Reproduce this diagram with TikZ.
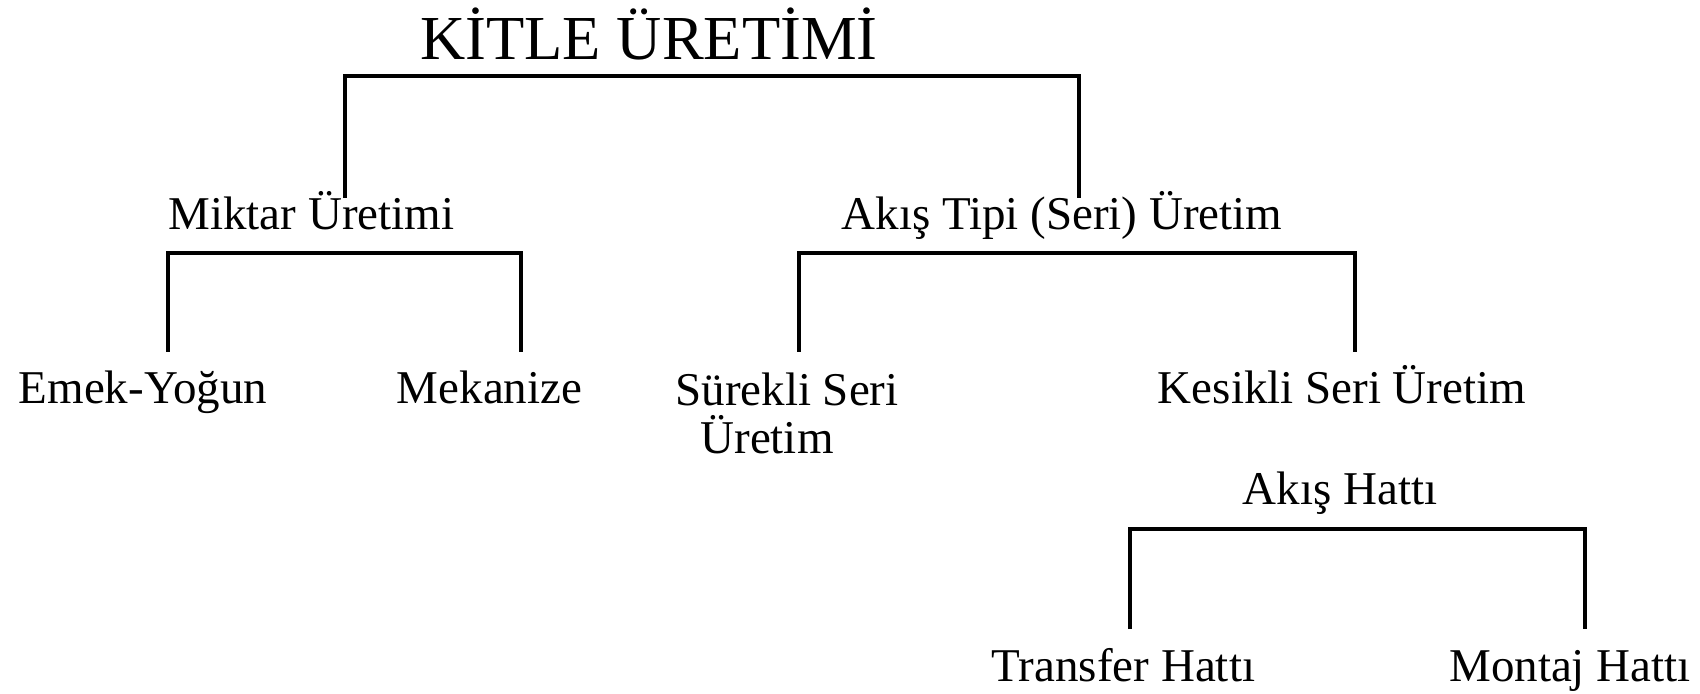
\documentclass[tikz,border=0pt]{standalone}
\usepackage{fontspec}
\setmainfont{Liberation Serif}
\begin{document}
\begin{tikzpicture}[x=0.5pt,y=-0.5pt,
  lbl/.style={inner sep=0pt,anchor=base,font=\fontsize{23.5pt}{24.5pt}\selectfont},
  ttl/.style={inner sep=0pt,anchor=base,font=\fontsize{31.3pt}{33pt}\selectfont},
  conn/.style={draw=black,line width=1.8pt,line join=miter}]
\useasboundingbox[fill=white] (0,0) rectangle (1700,694);
% nodes
\node[ttl] (title) at (649,60) {KİTLE ÜRETİMİ};
\node[lbl] (miktar) at (311.5,230) {Miktar Üretimi};
\node[lbl] (akis) at (1062,230) {Akış Tipi (Seri) Üretim};
\node[lbl] (emek) at (143,404) {Emek-Yoğun};
\node[lbl] (mekanize) at (489.5,404) {Mekanize};
\node[lbl,align=center] (surekli) at (787,453) {Sürekli Seri\\[-0.5pt]Üretim\hspace*{20pt}};
\node[lbl] (kesikli) at (1342,404) {Kesikli Seri Üretim};
\node[lbl] (akishatti) at (1340,504) {Akış Hattı};
\node[lbl] (transfer) at (1123.5,681) {Transfer Hattı};
\node[lbl] (montaj) at (1570,681) {Montaj Hattı};
% bracket levels
\coordinate (bar0) at (0,76);
\coordinate (bar1) at (0,253);
\coordinate (bar2) at (0,529);
% connector ends
\coordinate (e0l) at (345,198);
\coordinate (e0r) at (1079,198);
\coordinate (e1l) at (168,352);
\coordinate (e1r) at (521,352);
\coordinate (e2l) at (799,352);
\coordinate (e2r) at (1355,352);
\coordinate (e3l) at (1130,629);
\coordinate (e3r) at (1585,629);
% connectors
\draw[conn] (e0l) -- (e0l |- bar0) -- (e0r |- bar0) -- (e0r);
\draw[conn] (e1l) -- (e1l |- bar1) -- (e1r |- bar1) -- (e1r);
\draw[conn] (e2l) -- (e2l |- bar1) -- (e2r |- bar1) -- (e2r);
\draw[conn] (e3l) -- (e3l |- bar2) -- (e3r |- bar2) -- (e3r);
\end{tikzpicture}
\end{document}
